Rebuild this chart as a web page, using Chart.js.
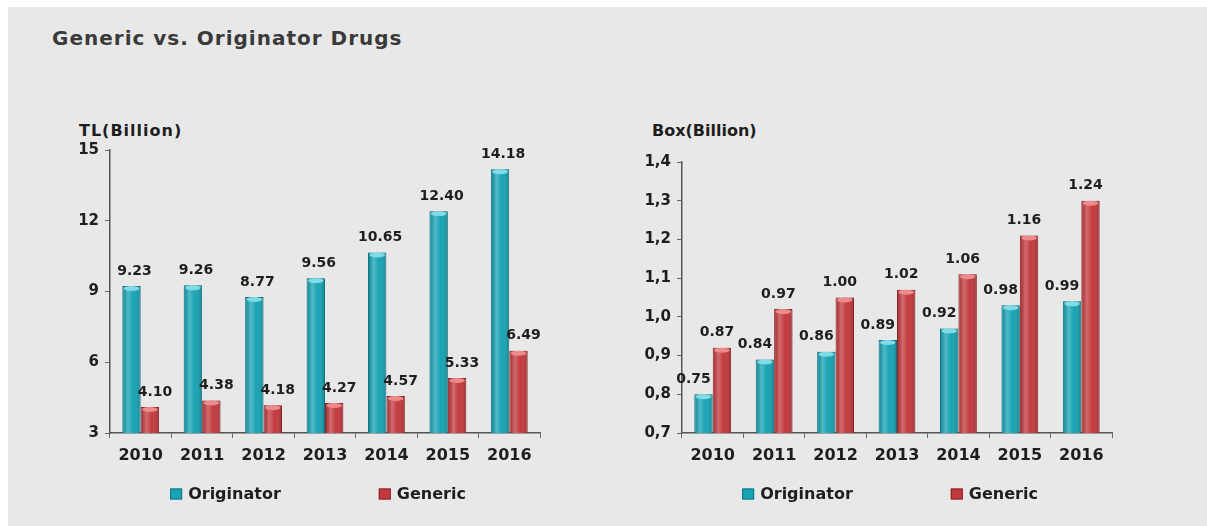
<!DOCTYPE html>
<html>
<head>
<meta charset="utf-8">
<script src="https://cdn.jsdelivr.net/npm/chart.js@4.4.0/dist/chart.umd.min.js"></script>
<style>
  html, body { margin: 0; padding: 0; background: #fff; }
  body { width: 1207px; height: 526px; position: relative; overflow: hidden; font-family: "DejaVu Sans", sans-serif; }
  #panel { position: absolute; left: 8px; top: 7px; right: 0; bottom: 0; background: #e8e8e8; }
  .txt { position: absolute; font-weight: bold; color: #1e1e1e; white-space: nowrap; }
  #titulo { left: 52px; top: 28px; font-size: 20px; line-height: 20px; letter-spacing: 1px; color: #3a3a3a; }
  #unidadTL { left: 79px; top: 123px; font-size: 16px; line-height: 16px; letter-spacing: 1px; }
  #unidadCaja { left: 652px; top: 123px; font-size: 16px; line-height: 16px; }
  .caja { position: absolute; top: 115px; width: 500px; height: 411px; }
  #cajaTL { left: 55px; }
  #cajaBox { left: 627px; }
</style>
</head>
<body>
<div id="panel"></div>
<div class="txt" id="titulo">Generic vs. Originator Drugs</div>
<div class="txt" id="unidadTL">TL(Billion)</div>
<div class="txt" id="unidadCaja">Box(Billion)</div>
<div class="caja" id="cajaTL"><canvas id="graficoTL"></canvas></div>
<div class="caja" id="cajaBox"><canvas id="graficoBox"></canvas></div>
<script>
const anios = ['2010', '2011', '2012', '2013', '2014', '2015', '2016'];
const series = ['Originator', 'Generic'];

// TL (Billion)
const tlOriginator = [9.23, 9.26, 8.77, 9.56, 10.65, 12.40, 14.18];
const tlGeneric = [4.10, 4.38, 4.18, 4.27, 4.57, 5.33, 6.49];
const tlTicks = [3, 6, 9, 12, 15];

// Box (Billion): bar heights as drawn, and the values printed above them
const boxOriginator = [0.80, 0.89, 0.91, 0.94, 0.97, 1.03, 1.04];
const boxGeneric = [0.92, 1.02, 1.05, 1.07, 1.11, 1.21, 1.30];
const boxOriginatorTxt = ['0.75', '0.84', '0.86', '0.89', '0.92', '0.98', '0.99'];
const boxGenericTxt = ['0.87', '0.97', '1.00', '1.02', '1.06', '1.16', '1.24'];
const boxTicks = [0.7, 0.8, 0.9, 1.0, 1.1, 1.2, 1.3, 1.4];

const colores = {
    Originator: { fondo: '#18a3b4', borde: '#0f7482', tapa: '#7fdbe5' },
    Generic: { fondo: '#c23a3e', borde: '#8a2226', tapa: '#ee8a8c' }
};
const fuente = 'DejaVu Sans';

// sombreado tipo cilindro sobre cada barra
const cilindro = {
    id: 'cilindro',
    afterDatasetsDraw(chart) {
        const ctx = chart.ctx;
        const fondo = chart.chartArea.bottom;
        chart.data.datasets.forEach((ds, i) => {
            chart.getDatasetMeta(i).data.forEach(bar => {
                const w = bar.width, x0 = bar.x - w / 2, top = bar.y, base = Math.min(bar.base, fondo);
                const g = ctx.createLinearGradient(x0, 0, x0 + w, 0);
                g.addColorStop(0, 'rgba(0,0,0,0.15)');
                g.addColorStop(0.3, 'rgba(255,255,255,0.25)');
                g.addColorStop(0.6, 'rgba(255,255,255,0)');
                g.addColorStop(1, 'rgba(0,0,0,0.22)');
                ctx.save();
                ctx.fillStyle = g;
                ctx.fillRect(x0 + 1, top, w - 2, base - top);
                ctx.beginPath();
                ctx.ellipse(bar.x, top + 2.5, w / 2 - 1.5, 2.5, 0, 0, Math.PI * 2);
                ctx.fillStyle = colores[ds.label].tapa;
                ctx.fill();
                ctx.restore();
            });
        });
    }
};

// valores impresos encima de las barras
const etiquetas = {
    id: 'etiquetas',
    afterDatasetsDraw(chart, args, opts) {
        const ctx = chart.ctx;
        ctx.save();
        ctx.font = 'bold 14px "' + fuente + '"';
        ctx.fillStyle = '#1e1e1e';
        ctx.textAlign = 'center';
        ctx.textBaseline = 'middle';
        chart.data.datasets.forEach((ds, i) => {
            chart.getDatasetMeta(i).data.forEach((bar, j) => {
                ctx.fillText(ds.textos[j], bar.x + opts.dx[i], bar.y - 15);
            });
        });
        ctx.restore();
    }
};

// leyenda centrada bajo el eje
const leyenda = {
    id: 'leyenda',
    afterDraw(chart) {
        const ctx = chart.ctx;
        const area = chart.chartArea;
        ctx.save();
        ctx.font = 'bold 16px "' + fuente + '"';
        ctx.textBaseline = 'middle';
        ctx.textAlign = 'left';
        const anchos = series.map(s => ctx.measureText(s).width);
        const marca = 12, sep = 6, hueco = 98;
        const total = anchos.reduce((a, b) => a + b, 0) + series.length * (marca + sep) + hueco * (series.length - 1);
        let x = (area.left + area.right) / 2 - 7 - total / 2;
        const y = area.bottom + 61;
        series.forEach((s, i) => {
            ctx.fillStyle = colores[s].fondo;
            ctx.fillRect(x, y - 5.5, marca, 11);
            ctx.strokeStyle = colores[s].borde;
            ctx.lineWidth = 1;
            ctx.strokeRect(x + 0.5, y - 5, marca - 1, 10);
            ctx.fillStyle = '#1e1e1e';
            ctx.fillText(s, x + marca + sep, y + 1);
            x += marca + sep + anchos[i] + hueco;
        });
        ctx.restore();
    }
};

function crearGrafico(id, datos, textos, ticks, etiquetaTick, arriba, dx) {
    const datasets = series.map((s, i) => ({
        label: s,
        data: datos[i],
        textos: textos[i],
        backgroundColor: colores[s].fondo,
        borderColor: colores[s].borde,
        borderWidth: 1,
        categoryPercentage: 0.6,
        barPercentage: 1
    }));
    return new Chart(document.getElementById(id), {
        type: 'bar',
        data: { labels: anios, datasets: datasets },
        options: {
            responsive: true,
            maintainAspectRatio: false,
            animation: false,
            layout: { padding: { top: arriba, right: 15, bottom: 58, left: 0 } },
            scales: {
                x: {
                    grid: { display: true, drawOnChartArea: false, tickLength: 5, color: '#666' },
                    border: { display: true, color: '#555', width: 1.5 },
                    ticks: { color: '#1e1e1e', padding: 8, font: { family: fuente, size: 16, weight: 'bold' } },
                    afterFit: s => { s.height = 35; }
                },
                y: {
                    min: ticks[0],
                    max: ticks[ticks.length - 1],
                    afterBuildTicks: s => { s.ticks = ticks.map(v => ({ value: v })); },
                    grid: { display: true, drawOnChartArea: false, tickLength: 5, color: '#666' },
                    border: { display: true, color: '#555', width: 1.5 },
                    ticks: {
                        color: '#1e1e1e', padding: 6,
                        font: { family: fuente, size: 15, weight: 'bold' },
                        callback: etiquetaTick
                    },
                    afterFit: s => { s.width = 55; }
                }
            },
            plugins: {
                legend: { display: false },
                tooltip: { enabled: false },
                etiquetas: { dx: dx }
            }
        },
        plugins: [cilindro, etiquetas, leyenda]
    });
}

crearGrafico('graficoTL', [tlOriginator, tlGeneric],
    [tlOriginator.map(v => v.toFixed(2)), tlGeneric.map(v => v.toFixed(2))],
    tlTicks, v => String(v), 35, [3, 5]);

crearGrafico('graficoBox', [boxOriginator, boxGeneric],
    [boxOriginatorTxt, boxGenericTxt],
    boxTicks, v => v.toFixed(1).replace('.', ','), 47, [-10, -5]);
</script>
</body>
</html>
